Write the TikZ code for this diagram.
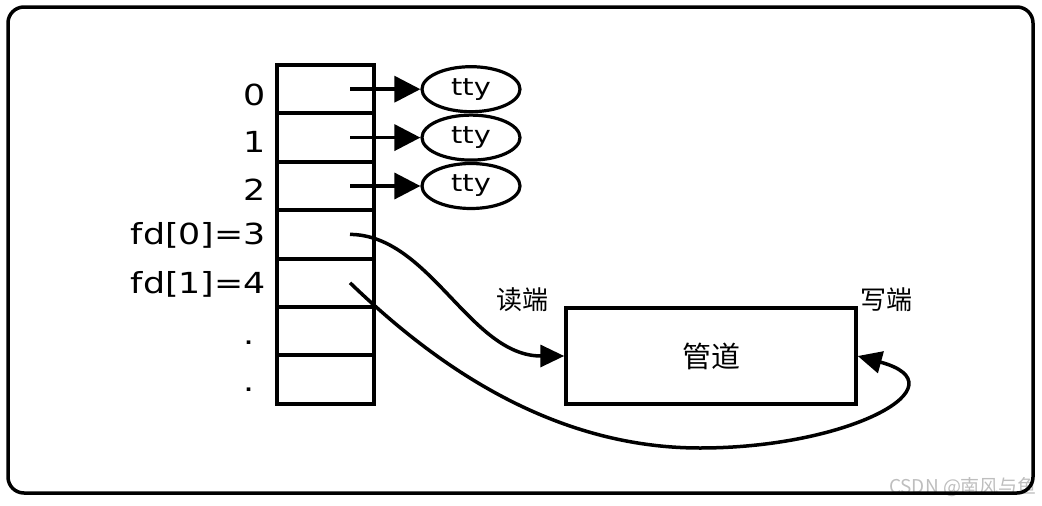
\documentclass[tikz,border=0pt]{standalone}
\usepackage{fontspec}
\setmainfont{DejaVu Sans}[FakeStretch=1.2]
\newfontfamily\cjk{Noto Sans CJK SC}
\usetikzlibrary{positioning,arrows.meta,shapes.geometric}
\usepackage{xcolor}
\definecolor{markgray}{RGB}{190,190,190}

\begin{document}
\begin{tikzpicture}[x=1pt, y=-1pt,
    cell/.style={draw, line width=4pt, minimum width=97pt, minimum height=48.4pt, inner sep=0pt},
    tty/.style={draw, ellipse, line width=3.2pt, minimum width=98pt, minimum height=45pt,
                inner sep=0pt, font=\fontsize{24}{28}\selectfont},
    fdlab/.style={anchor=base east, inner sep=0pt, font=\fontsize{29}{34}\selectfont},
    ptr/.style={-{Triangle[length=26pt,width=26pt]}, line width=3.5pt},
    pipeptr/.style={-{Triangle[length=24pt,width=22pt]}, line width=3.5pt},
    cn/.style={font=\cjk\fontsize{26}{30}\selectfont, inner sep=0pt}
]
    \useasboundingbox (0,0) rectangle (1042,506);

    % watermark, under the frame
    \node[font=\cjk\fontsize{19}{21}\selectfont, text=markgray] (mark) at (963,487) {CSDN @南风与鱼};

    % outer frame
    \draw[line width=3.5pt, rounded corners=16pt] (8,7) rectangle (1033,493);

    % descriptor table, seven cells
    \foreach \i in {0,...,6}
        \node[cell] (c\i) at (325.5, {89.2+48.4*\i}) {};

    % row labels
    \node[fdlab] (l0) at (266,105) {0};
    \node[fdlab] (l1) at (266,152) {1};
    \node[fdlab] (l2) at (266,200) {2};
    \node[fdlab] (l3) at (266,244) {fd[0]=3};
    \node[fdlab] (l4) at (266,293) {fd[1]=4};
    \node[fdlab, anchor=base] (l5) at (249,344) {.};
    \node[fdlab, anchor=base] (l6) at (249,391) {.};

    % terminals
    \foreach \i in {0,1,2} {
        \node[tty] (t\i) at (471, {89.2+48.4*\i}) {tty};
        \coordinate (s\i) at ([xshift=24.5pt]c\i.center);
        \draw[ptr] (s\i) -- (t\i);
    }

    % pipe and its two ends
    \node[draw, line width=3.5pt, minimum width=290pt, minimum height=96pt,
          font=\cjk\fontsize{29}{34}\selectfont] (pipe) at (711,356) {管道};
    \node[cn] (rd) at (522,300) {读端};
    \node[cn] (wr) at (886,300) {写端};

    \coordinate (s3) at ([xshift=24.5pt]c3.center);
    \coordinate (s4) at ([xshift=24.5pt]c4.center);
    \draw[pipeptr] (s3) .. controls (430,235) and (470,356) .. (pipe.west);
    \draw[pipeptr] (s4) .. controls (420,350) and (540,448) .. (700,448)
                        .. controls (850,448) and (965,385) .. (pipe.east);
\end{tikzpicture}
\end{document}
